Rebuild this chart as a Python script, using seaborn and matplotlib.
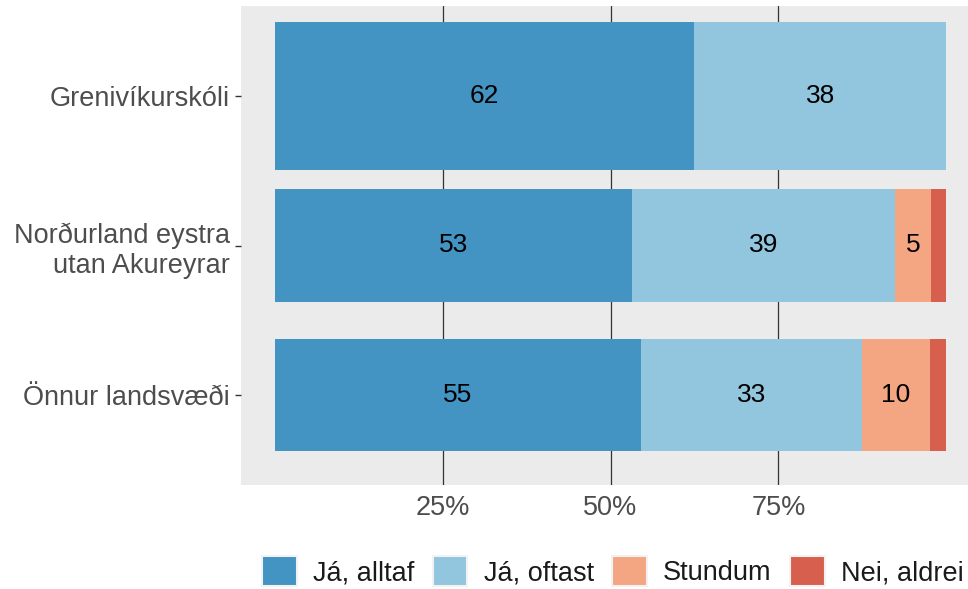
import numpy as np
import pandas as pd
import matplotlib
matplotlib.use("Agg")
import matplotlib.pyplot as plt
from matplotlib.patches import Patch
import seaborn as sns

regions = ["Grenivíkurskóli", "Norðurland eystra\nutan Akureyrar", "Önnur landsvæði"]
responses = ["Já, alltaf", "Já, oftast", "Stundum", "Nei, aldrei"]
colors = ["#4393C3", "#92C5DE", "#F4A582", "#D6604D"]

ja_alltaf = [62.5, 53.2, 54.6]
ja_oftast = [37.5, 39.1, 32.8]
stundum = [0.0, 5.4, 10.2]
nei_aldrei = [0.0, 2.3, 2.4]

bar_width = [0.99, 0.75, 0.75]

sns.set_theme(style="white")
plt.rcParams["font.family"] = ["Liberation Sans", "DejaVu Sans"]

vals = np.array([ja_alltaf, ja_oftast, stundum, nei_aldrei])
cum = vals.cumsum(axis=0)

fig = plt.figure(figsize=(9.68, 5.89), dpi=100)
ax = fig.add_axes([241 / 968, 1 - 485 / 589, 739 / 968, 479 / 589])
ax.set_facecolor("#EBEBEB")

# draw cumulative bars from the outermost segment inward
for i in reversed(range(len(responses))):
    df = pd.DataFrame({"region": regions, "end": cum[i]})
    sns.barplot(data=df, x="end", y="region", color=colors[i], orient="h",
                width=0.75, linewidth=0, saturation=1, ax=ax, zorder=2)

# per-row bar thickness
for p in ax.patches:
    yc = p.get_y() + p.get_height() / 2
    row = int(round(yc))
    h = bar_width[row]
    p.set_y(row - h / 2)
    p.set_height(h)

for r in range(len(regions)):
    start = 0
    for i in range(len(responses)):
        v = vals[i, r]
        if v >= 4:
            ax.text(start + v / 2, r, f"{round(v)}", ha="center", va="center",
                    fontsize=19, color="black", zorder=3)
        start += v

ax.set_xlim(-5, 105)
ax.set_ylim(2.6, -0.6)
ax.set_xticks([25, 50, 75])
ax.set_xticklabels(["25%", "50%", "75%"])
ax.set_xlabel("")
ax.set_ylabel("")
ax.grid(axis="x", color="#333333", linewidth=0.9, zorder=0)
ax.grid(axis="y", visible=False)
ax.set_axisbelow(True)
for s in ax.spines.values():
    s.set_visible(False)
ax.tick_params(axis="x", length=0, pad=7, labelsize=19.5, labelcolor="#4D4D4D")
ax.tick_params(axis="y", length=4, width=1, color="#333333", pad=4,
               labelsize=19.5, labelcolor="#4D4D4D", left=True)
for lab in ax.get_yticklabels():
    lab.set_multialignment("right")

handles = [Patch(facecolor=c, edgecolor="#F2F2F2", linewidth=1.5) for c in colors]
ax.legend(handles, responses, loc="center", bbox_to_anchor=(0.503, -0.18),
          ncol=4, frameon=False, fontsize=19.5, handlelength=1.28,
          handleheight=1.3, handletextpad=0.6, columnspacing=0.68,
          labelcolor="#1A1A1A")

fig.savefig("out.png", dpi=100)
